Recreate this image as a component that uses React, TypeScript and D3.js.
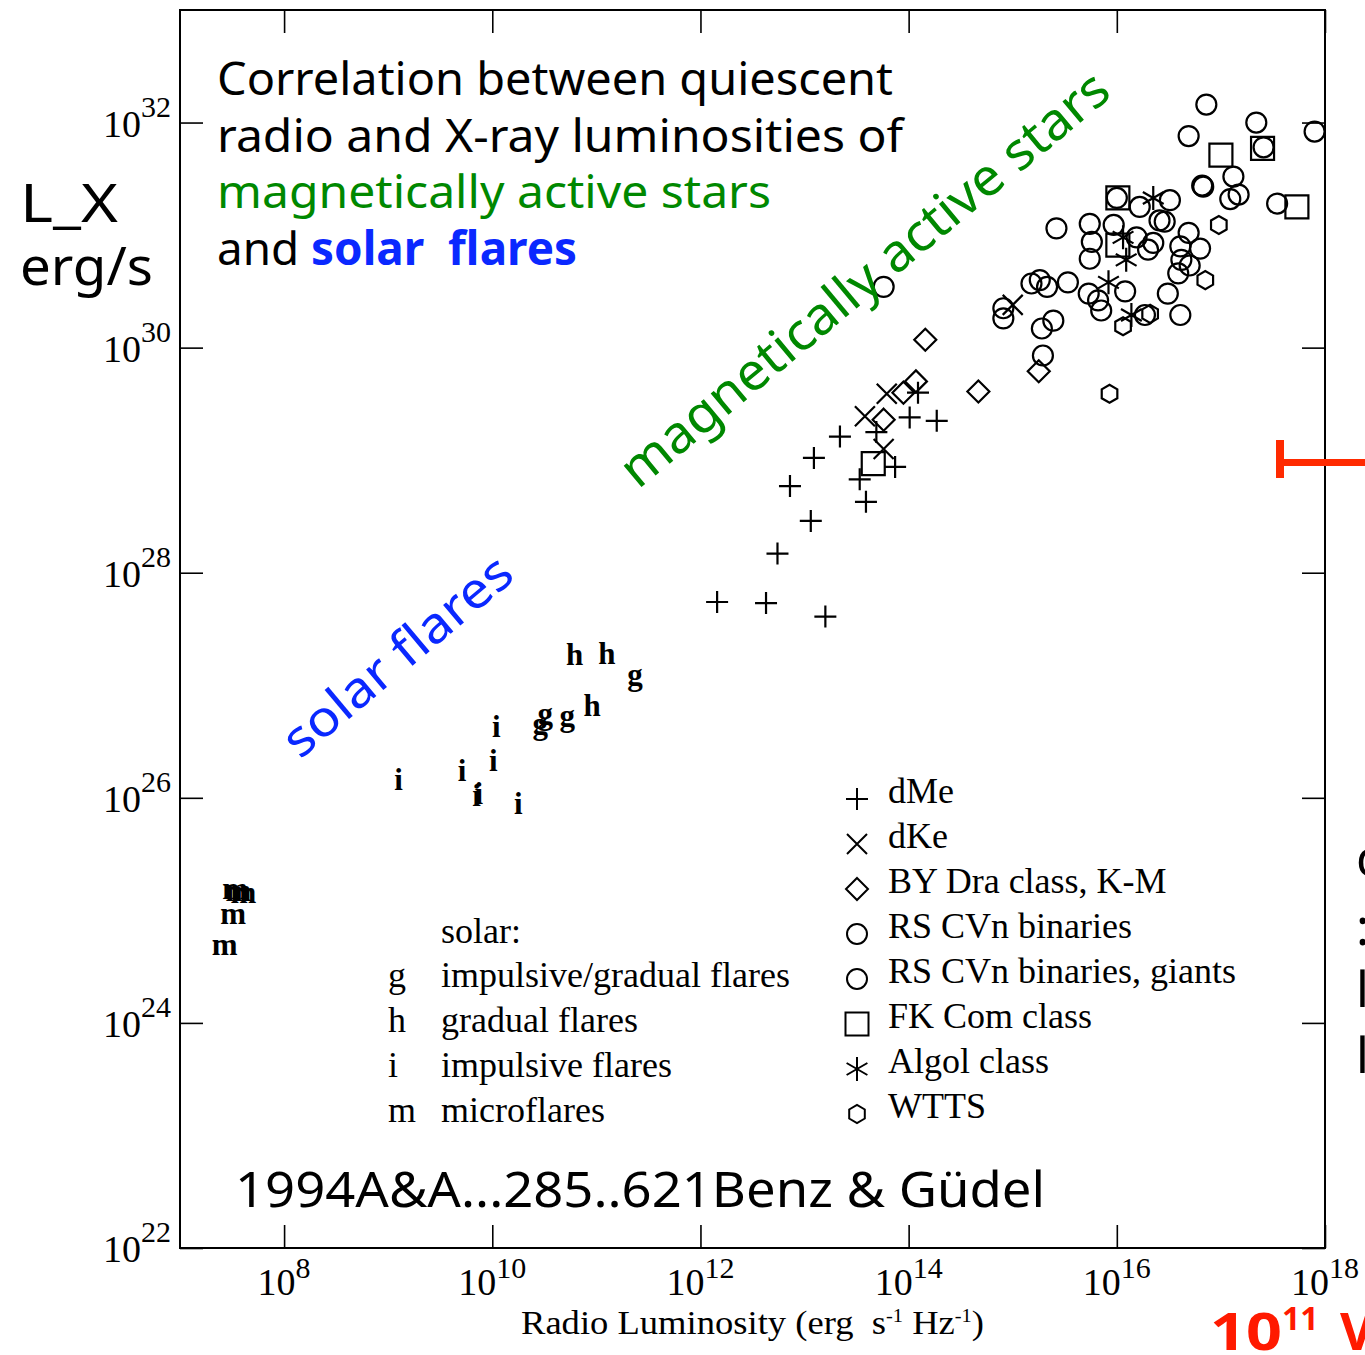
import React, { useEffect, useRef } from "react";
import * as d3 from "d3";

// [log10 radio luminosity (erg/s/Hz), log10 X-ray luminosity (erg/s)]
const dMe = [
  [12.16, 27.74], [12.63, 27.73], [13.2, 27.61], [12.74, 28.17], [13.06, 28.46],
  [12.86, 28.77], [13.09, 29.02], [13.34, 29.21], [13.59, 28.63], [13.53, 28.83],
  [13.69, 29.25], [13.87, 28.94], [14.01, 29.38], [14.27, 29.35], [14.09, 29.6],
];
const dKe = [[13.58, 29.39], [13.79, 29.59], [13.76, 29.1], [15.0, 30.38]];
const byDra = [
  [14.16, 30.07], [14.67, 29.61], [14.07, 29.7], [13.95, 29.6], [13.76, 29.36], [15.25, 29.79],
];
const rsCvn = [
  [16.86, 32.16], [17.34, 32.0], [16.69, 31.88], [17.9, 31.92], [17.41, 31.78],
  [17.12, 31.52], [16.82, 31.44], [16.83, 31.43], [17.17, 31.36], [17.09, 31.32],
  [17.54, 31.28], [16.0, 31.33], [16.51, 31.31], [16.22, 31.25], [16.41, 31.13],
  [16.46, 31.12], [15.42, 31.06], [15.74, 31.1], [15.97, 31.09], [15.76, 30.94],
  [15.74, 30.79], [16.19, 30.98], [16.35, 30.93], [16.3, 30.87], [16.69, 31.02],
  [16.61, 30.9], [16.8, 30.88], [16.62, 30.78], [16.7, 30.73], [16.59, 30.66],
  [15.53, 30.58], [15.18, 30.57], [15.26, 30.6], [15.33, 30.54], [13.76, 30.54],
  [15.73, 30.48], [15.82, 30.42], [16.08, 30.5], [16.49, 30.48], [15.85, 30.33],
  [16.61, 30.29], [14.91, 30.35], [14.91, 30.26], [15.39, 30.24], [15.28, 30.17],
  [15.29, 29.93], [16.27, 30.29],
];
const fkCom = [[17.0, 31.71], [17.4, 31.77], [17.73, 31.25], [16.01, 31.33], [16.01, 30.91], [13.66, 28.97]];
const algol = [[16.35, 31.33], [16.06, 30.98], [16.09, 30.78], [15.92, 30.58], [16.14, 30.29]];
const wtts = [[15.93, 29.59], [16.85, 30.6], [16.98, 31.09], [16.06, 30.19], [16.32, 30.3]];

// solar flares, drawn as letters
const solarG = [[11.37, 27.1], [10.72, 26.73], [10.51, 26.75], [10.46, 26.66]];
const solarH = [[10.79, 27.27], [11.1, 27.28], [10.96, 26.82]];
const solarI = [
  [10.04, 26.63], [10.01, 26.33], [9.71, 26.24], [9.87, 26.04], [9.85, 26.02], [10.25, 25.95], [9.1, 26.16],
];
const solarM = [[7.56, 25.18], [7.61, 25.16], [7.53, 25.19], [7.51, 24.97], [7.43, 24.7]];

const xTickExp = [8, 10, 12, 14, 16, 18];
const yTickExp = [22, 24, 26, 28, 30, 32];

const starLegend = [
  ["plus", "dMe"],
  ["cross", "dKe"],
  ["diamond", "BY Dra class, K-M"],
  ["circle", "RS CVn binaries"],
  ["circle", "RS CVn binaries, giants"],
  ["square", "FK Com class"],
  ["asterisk", "Algol class"],
  ["hexagon", "WTTS"],
];
const solarLegend = [
  ["g", "impulsive/gradual flares"],
  ["h", "gradual flares"],
  ["i", "impulsive flares"],
  ["m", "microflares"],
];

const comic = "'Comic Sans MS', 'Noto Sans', sans-serif";
const serif = "'Liberation Serif', 'Times New Roman', serif";

function markerPath(kind: string) {
  switch (kind) {
    case "plus":
      return "M-11,0H11M0,-11V11";
    case "cross":
      return "M-10,-10L10,10M-10,10L10,-10";
    case "diamond":
      return "M0,-11L11,0L0,11L-11,0Z";
    case "square":
      return "M-11.5,-11.5H11.5V11.5H-11.5Z";
    case "asterisk":
      return "M0,-12V12M-10.4,-6L10.4,6M-10.4,6L10.4,-6";
    case "hexagon": {
      const pts = d3.range(6).map((i) => {
        const a = (Math.PI / 3) * i + Math.PI / 6;
        return [9 * Math.cos(a), 9 * Math.sin(a)];
      });
      return "M" + pts.map((p) => p.join(",")).join("L") + "Z";
    }
    default:
      return d3.arc()({ innerRadius: 0, outerRadius: 10, startAngle: 0, endAngle: 2 * Math.PI }) as string;
  }
}

const App = () => {
  const svgRef = useRef<SVGSVGElement>(null);

  useEffect(() => {
    const left = 180, right = 1325, top = 10, bottom = 1248;
    const svg = d3.select(svgRef.current);
    svg.selectAll("*").remove();

    const x = d3.scaleLog().domain([1e7, 1e18]).range([left, right]);
    const y = d3.scaleLog().domain([1e22, 1e33]).range([bottom, top]);
    const px = (d: number[]) => x(10 ** d[0]);
    const py = (d: number[]) => y(10 ** d[1]);

    svg.append("rect").attr("width", 1365).attr("height", 1355).attr("fill", "#fff");

    // frame and inward ticks on all four sides
    svg.append("rect")
      .attr("x", left).attr("y", top)
      .attr("width", right - left).attr("height", bottom - top)
      .attr("fill", "none").attr("stroke", "#000").attr("stroke-width", 2);

    const tl = 23;
    const xv = xTickExp.map((e) => 10 ** e);
    const yv = yTickExp.map((e) => 10 ** e);
    const clean = (g: any) => {
      g.select(".domain").remove();
      g.selectAll("line").attr("stroke-width", 1.6);
    };
    svg.append("g").attr("transform", `translate(0,${bottom})`)
      .call(d3.axisBottom(x).tickValues(xv).tickSize(-tl).tickFormat(() => "")).call(clean);
    svg.append("g").attr("transform", `translate(0,${top})`)
      .call(d3.axisTop(x).tickValues(xv).tickSize(-tl).tickFormat(() => "")).call(clean);
    svg.append("g").attr("transform", `translate(${left},0)`)
      .call(d3.axisLeft(y).tickValues(yv).tickSize(-tl).tickFormat(() => "")).call(clean);
    svg.append("g").attr("transform", `translate(${right},0)`)
      .call(d3.axisRight(y).tickValues(yv).tickSize(-tl).tickFormat(() => "")).call(clean);

    // tick labels 10^n
    const xl = svg.append("g").attr("font-family", serif).attr("fill", "#000");
    xTickExp.forEach((e) => {
      const t = xl.append("text").attr("x", x(10 ** e)).attr("y", 1295)
        .attr("text-anchor", "middle").attr("font-size", 38);
      t.append("tspan").text("10");
      t.append("tspan").attr("dy", -17).attr("font-size", 30).text(e);
    });
    const yl = svg.append("g").attr("font-family", serif).attr("fill", "#000");
    yTickExp.forEach((e) => {
      const t = yl.append("text").attr("x", 171).attr("y", y(10 ** e) + 14)
        .attr("text-anchor", "end").attr("font-size", 38);
      t.append("tspan").text("10");
      t.append("tspan").attr("dy", -20).attr("font-size", 30).text(e);
    });

    // axis titles
    const xt = svg.append("text").attr("x", 521).attr("y", 1334)
      .attr("font-family", serif).attr("font-size", 34)
      .attr("textLength", 463).attr("lengthAdjust", "spacingAndGlyphs");
    xt.append("tspan").text("Radio Luminosity (erg\u00a0\u00a0s");
    xt.append("tspan").attr("dy", -12).attr("font-size", 19).text("-1");
    xt.append("tspan").attr("dy", 12).text(" Hz");
    xt.append("tspan").attr("dy", -12).attr("font-size", 19).text("-1");
    xt.append("tspan").attr("dy", 12).text(")");

    svg.append("text").attr("x", 20).attr("y", 222).attr("font-family", comic)
      .attr("font-size", 52).attr("textLength", 98).attr("lengthAdjust", "spacingAndGlyphs").text("L_X");
    svg.append("text").attr("x", 20).attr("y", 285).attr("font-family", comic)
      .attr("font-size", 52).attr("textLength", 133).attr("lengthAdjust", "spacingAndGlyphs").text("erg/s");

    // stellar markers
    const groups: [string, number[][]][] = [
      ["plus", dMe], ["cross", dKe], ["diamond", byDra], ["circle", rsCvn],
      ["square", fkCom], ["asterisk", algol], ["hexagon", wtts],
    ];
    const mk = svg.append("g").attr("fill", "none").attr("stroke", "#000").attr("stroke-width", 2.2);
    groups.forEach(([kind, data]) => {
      mk.append("g").selectAll("path").data(data).join("path")
        .attr("transform", (d) => `translate(${px(d)},${py(d)})`)
        .attr("d", markerPath(kind));
    });

    // solar flare letters
    const letters: [string, number[][]][] = [["g", solarG], ["h", solarH], ["i", solarI], ["m", solarM]];
    const lg = svg.append("g").attr("font-family", serif).attr("font-weight", "bold")
      .attr("font-size", 31).attr("text-anchor", "middle").attr("dominant-baseline", "central");
    letters.forEach(([ch, data]) => {
      lg.append("g").selectAll("text").data(data).join("text")
        .attr("x", (d) => px(d)).attr("y", (d) => py(d)).text(ch);
    });

    // star legend
    const sl = svg.append("g");
    starLegend.forEach(([kind, label], i) => {
      const by = 803 + i * 45;
      sl.append("path").attr("transform", `translate(857,${by - 4})`).attr("d", markerPath(kind))
        .attr("fill", "none").attr("stroke", "#000").attr("stroke-width", 2);
      sl.append("text").attr("x", 888).attr("y", by).attr("font-family", serif)
        .attr("font-size", 36).text(label);
    });

    // solar legend
    const so = svg.append("g").attr("font-family", serif).attr("font-size", 36);
    so.append("text").attr("x", 441).attr("y", 943).text("solar:");
    solarLegend.forEach(([ch, label], i) => {
      const by = 987 + i * 45;
      so.append("text").attr("x", 388).attr("y", by).text(ch);
      so.append("text").attr("x", 441).attr("y", by).text(label);
    });

    // annotation block
    const ann = svg.append("g").attr("font-family", comic).attr("font-size", 46);
    ann.append("text").attr("x", 217).attr("y", 95).attr("textLength", 676)
      .attr("lengthAdjust", "spacingAndGlyphs").text("Correlation between quiescent");
    ann.append("text").attr("x", 217).attr("y", 152).attr("textLength", 686)
      .attr("lengthAdjust", "spacingAndGlyphs").text("radio and X-ray luminosities of");
    ann.append("text").attr("x", 217).attr("y", 208).attr("textLength", 554)
      .attr("lengthAdjust", "spacingAndGlyphs").attr("fill", "#008800").text("magnetically active stars");
    const l4 = ann.append("text").attr("x", 217).attr("y", 265).attr("textLength", 360)
      .attr("lengthAdjust", "spacingAndGlyphs");
    l4.append("tspan").text("and ");
    l4.append("tspan").attr("fill", "#0a28ff").attr("font-weight", "bold").text("solar\u00a0\u00a0flares");

    svg.append("text").attr("transform", "translate(638,490) rotate(-39.7)")
      .attr("font-family", comic).attr("font-size", 52).attr("fill", "#008800")
      .attr("textLength", 618).attr("lengthAdjust", "spacingAndGlyphs").text("magnetically active stars");
    svg.append("text").attr("transform", "translate(300,760) rotate(-40)")
      .attr("font-family", comic).attr("font-size", 50).attr("fill", "#0a28ff")
      .attr("textLength", 283).attr("lengthAdjust", "spacingAndGlyphs").text("solar flares");

    svg.append("text").attr("x", 235).attr("y", 1207).attr("font-family", comic)
      .attr("font-size", 50).attr("textLength", 810).attr("lengthAdjust", "spacingAndGlyphs")
      .text("1994A&A...285..621Benz & Güdel");

    // slide fragments at the right edge
    svg.append("rect").attr("x", 1276).attr("y", 440).attr("width", 8).attr("height", 38).attr("fill", "#ff2a00");
    svg.append("rect").attr("x", 1284).attr("y", 459).attr("width", 81).attr("height", 7).attr("fill", "#ff2a00");
    const red = svg.append("text").attr("x", 1210).attr("y", 1350).attr("font-family", comic)
      .attr("font-weight", "bold").attr("font-size", 52).attr("fill", "#ff1a00");
    red.append("tspan").attr("textLength", 72).attr("lengthAdjust", "spacingAndGlyphs").text("10");
    red.append("tspan").attr("dy", -20).attr("font-size", 32).text("11");
    red.append("tspan").attr("x", 1340).attr("dy", 20).text("V");

    const frag = svg.append("g").attr("font-family", comic).attr("font-size", 50);
    [["c", 876], [":", 945], ["l", 1007], ["l", 1073]].forEach(([t, by]) => {
      frag.append("text").attr("x", 1356).attr("y", by).text(t);
    });
  }, []);

  return (
    <svg
      ref={svgRef}
      width={1365}
      height={1355}
      style={{ position: "absolute", left: 0, top: 0 }}
    />
  );
};

export default App;
